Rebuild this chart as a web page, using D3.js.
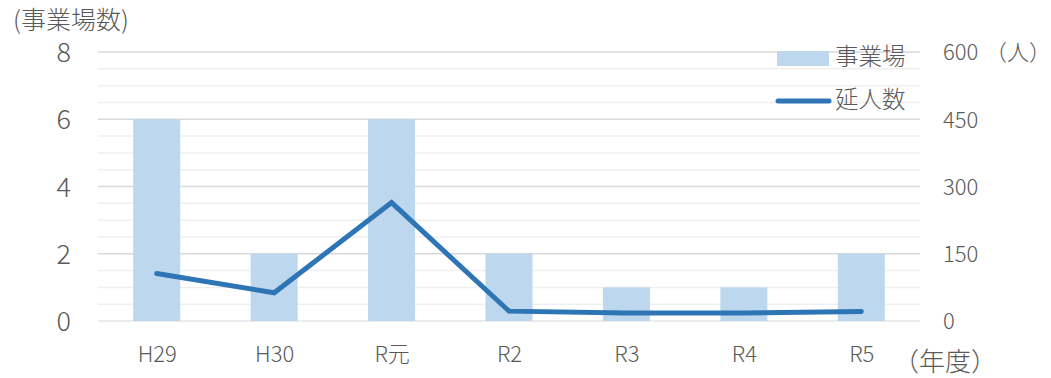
<!DOCTYPE html>
<html><head><meta charset="utf-8">
<script src="https://cdn.jsdelivr.net/npm/d3@7"></script>
<style>
body{margin:0;background:#fff;}
text{font-family:"Noto Sans CJK JP","Noto Sans",sans-serif;fill:#595959;font-weight:300;}
</style></head>
<body><svg id="chart" width="1051" height="378"></svg>
<script>
// 年度ごとの事業場数（棒）と延人数（折れ線）
const categories = ["H29", "H30", "R元", "R2", "R3", "R4", "R5"];
const establishments = [6, 2, 6, 2, 1, 1, 2];
const persons = [106, 63, 264, 22, 18, 18, 21];
const leftTicks = [0, 2, 4, 6, 8];
const rightTicks = [0, 150, 300, 450, 600];
const minorTicks = d3.range(0, 8.01, 0.5);

const svg = d3.select("#chart");
const plotLeft = 98, plotRight = 920, plotTop = 52, plotBottom = 321;

const xc = d3.scalePoint().domain(categories).range([plotLeft, plotRight]).padding(0.5);
const yL = d3.scaleLinear().domain([0, 8]).range([plotBottom, plotTop]);
const yR = d3.scaleLinear().domain([0, 600]).range([plotBottom, plotTop]);

// 補助目盛線
svg.append("g").selectAll("line").data(minorTicks.filter(v => v % 2 !== 0)).join("line")
  .attr("x1", plotLeft).attr("x2", plotRight)
  .attr("y1", d => yL(d)).attr("y2", d => yL(d))
  .attr("stroke", "#EFEFEF").attr("stroke-width", 1.5);
// 主目盛線
svg.append("g").selectAll("line").data(leftTicks).join("line")
  .attr("x1", plotLeft).attr("x2", plotRight)
  .attr("y1", d => yL(d)).attr("y2", d => yL(d))
  .attr("stroke", d => d === 0 ? "#E6E6E6" : "#D9D9D9").attr("stroke-width", 1.5);

// 棒：事業場数
const bw = 47;
svg.append("g").selectAll("rect").data(categories).join("rect")
  .attr("x", d => xc(d) - bw / 2).attr("width", bw)
  .attr("y", (d, i) => yL(establishments[i]))
  .attr("height", (d, i) => yL(0) - yL(establishments[i]))
  .attr("fill", "#BDD7EE");

// 折れ線：延人数
const line = d3.line().x((d, i) => xc(categories[i])).y(d => yR(d));
svg.append("path").datum(persons).attr("d", line)
  .attr("fill", "none").attr("stroke", "#2E75B6").attr("stroke-width", 5)
  .attr("stroke-linecap", "round").attr("stroke-linejoin", "miter");

const latinFont = "'Noto Sans','Noto Sans CJK JP',sans-serif";

// 左軸
const axL = d3.axisLeft(yL).tickValues(leftTicks).tickSize(0).tickPadding(0);
const gL = svg.append("g").attr("transform", "translate(71,0)").call(axL);
gL.select(".domain").remove();
gL.selectAll("text").attr("font-size", 27).attr("fill", "#595959")
  .attr("font-family", "Roboto,'Noto Sans',sans-serif").attr("font-weight", 300).attr("dy", "0.36em");

// 右軸
const axR = d3.axisRight(yR).tickValues(rightTicks).tickSize(0).tickPadding(0);
const gR = svg.append("g").attr("transform", "translate(943,0)").call(axR);
gR.select(".domain").remove();
gR.selectAll("text").attr("font-size", 22).attr("fill", "#595959")
  .attr("font-family", latinFont).attr("font-weight", 300).attr("dy", "0.36em");

// 横軸ラベル
const axB = d3.axisBottom(xc).tickSize(0).tickPadding(0);
const gB = svg.append("g").attr("transform", "translate(0,362)").call(axB);
gB.select(".domain").remove();
gB.selectAll("text").attr("font-size", 22).attr("fill", "#595959")
  .attr("font-family", latinFont).attr("font-weight", 300).attr("dy", 0);

// 軸タイトル
svg.append("text").attr("x", 13).attr("y", 29).attr("font-size", 25).text("(事業場数)");
svg.append("text").attr("x", 985).attr("y", 60).attr("font-size", 22).text("（人）");
svg.append("text").attr("x", 893).attr("y", 371).attr("font-size", 26).text("（年度）");

// 凡例
const lg = svg.append("g");
lg.append("rect").attr("x", 777).attr("y", 51).attr("width", 52).attr("height", 15).attr("fill", "#BDD7EE");
lg.append("text").attr("x", 835).attr("y", 65).attr("font-size", 23.5).text("事業場");
lg.append("line").attr("x1", 778).attr("x2", 829).attr("y1", 101).attr("y2", 101)
  .attr("stroke", "#2E75B6").attr("stroke-width", 5).attr("stroke-linecap", "round");
lg.append("text").attr("x", 835).attr("y", 108).attr("font-size", 23.5).text("延人数");
</script></body></html>
